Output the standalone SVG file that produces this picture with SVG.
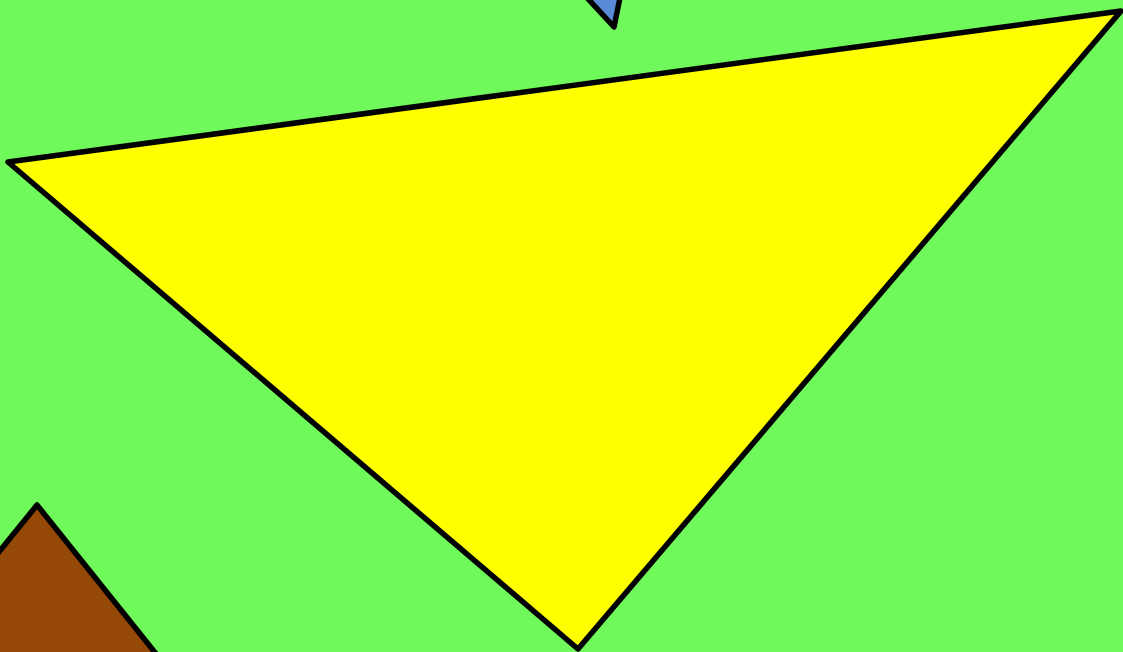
<svg xmlns="http://www.w3.org/2000/svg" width="1123" height="652" viewBox="0 0 1123 652">
<style>.s{stroke:#000;stroke-width:5.5;stroke-linejoin:round}</style>
<rect width="1123" height="652" fill="#70f95a"/>
<polygon class="s" fill="#5a8bd8" points="578,-12 622,-12 614,27"/>
<polygon class="s" fill="#964806" points="37,505 -40,600 -40,700 193,700"/>
<polygon class="s" fill="#ffff00" points="8,162 1121,11 578,649"/>
</svg>
